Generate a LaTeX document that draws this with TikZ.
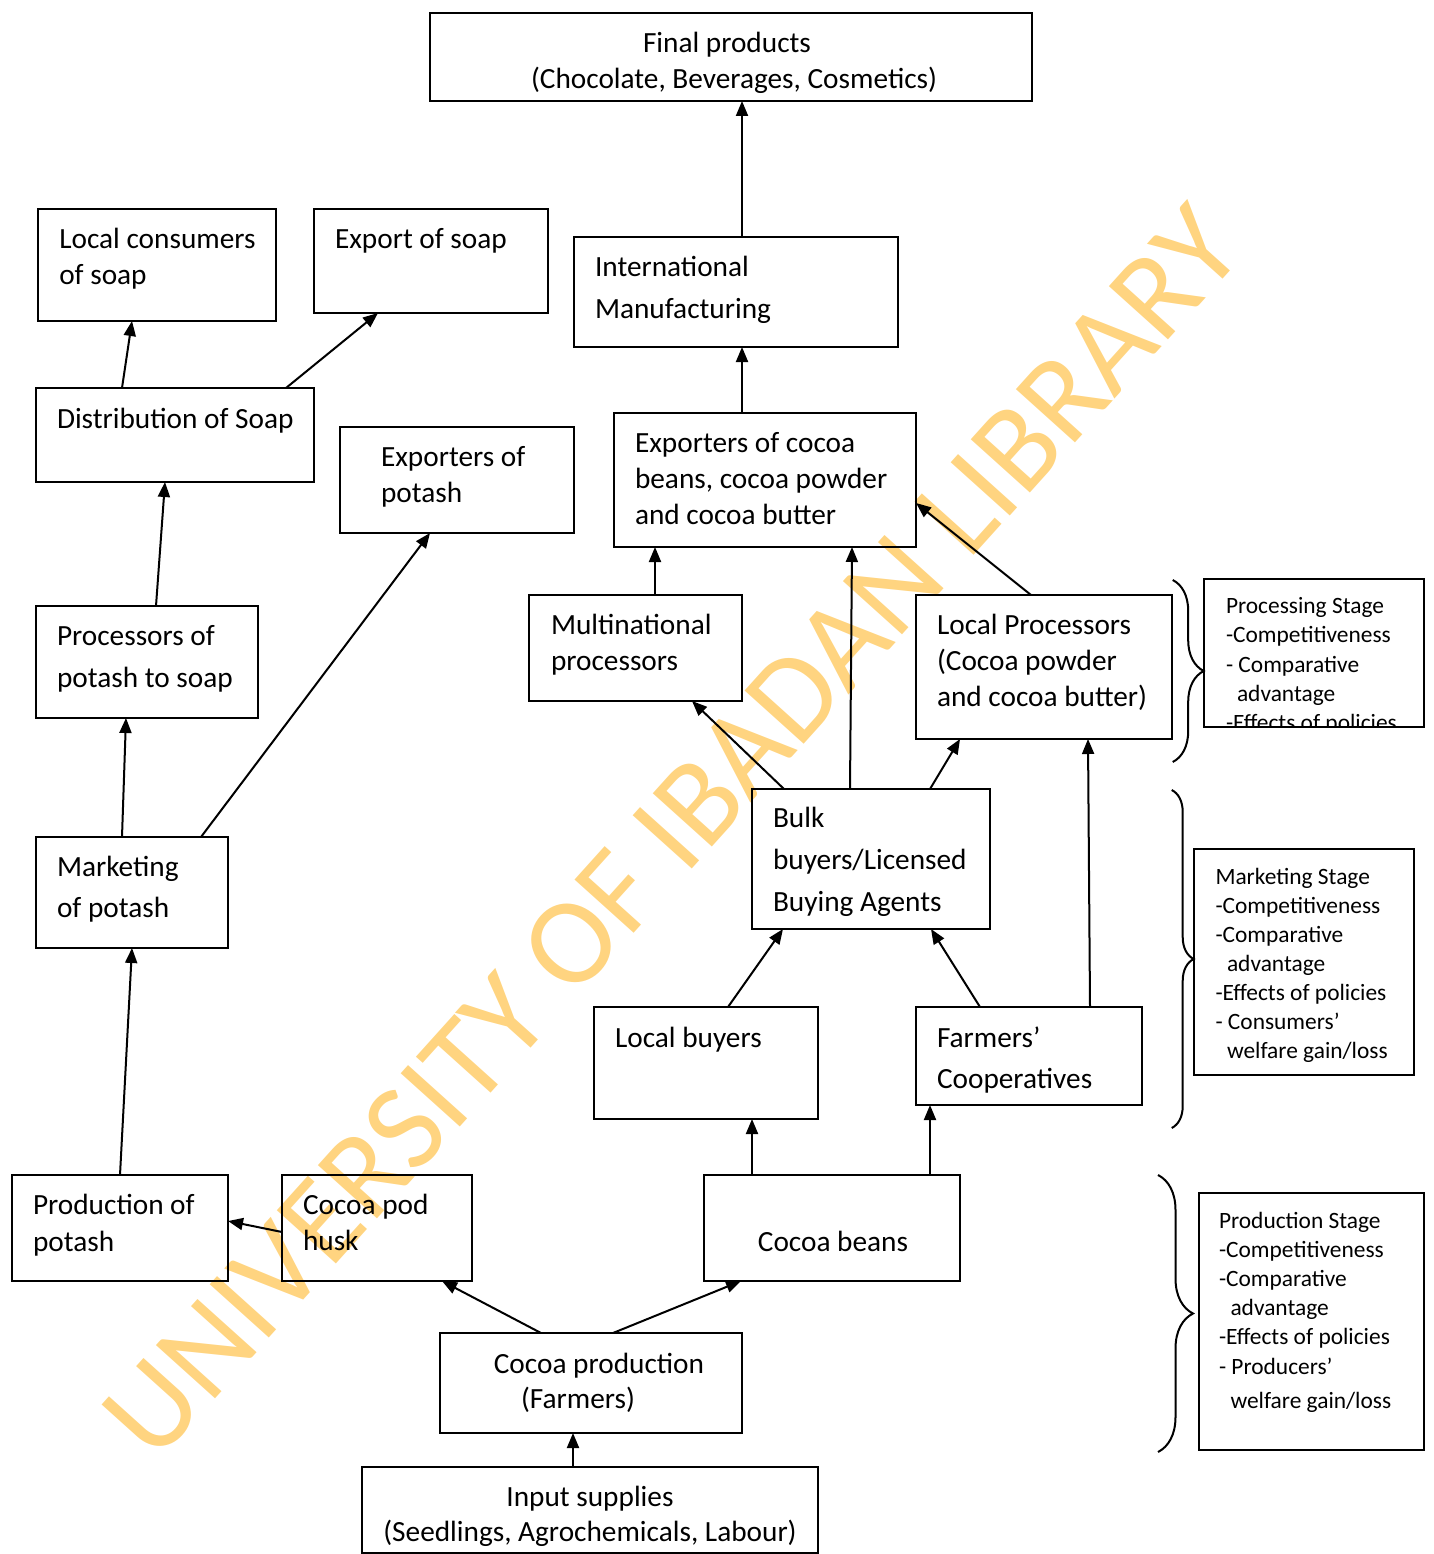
\documentclass[tikz,border=0pt]{standalone}
\usepackage{fontspec}
\setmainfont{Carlito}
\usetikzlibrary{arrows.meta,decorations.pathreplacing}
\definecolor{wm}{RGB}{255,212,128}
% W H pad baseline1 fontsize baselineskip lines
\newcommand\lbox[7]{\parbox[b][#2pt][t]{#1pt}{\fontsize{#5}{#6}\selectfont\vspace*{\dimexpr #4pt-0.7\baselineskip\relax}\hspace*{#3pt}\begin{tabular}[t]{@{}l@{}}#7\end{tabular}}}
\newcommand\cbox[7]{\parbox[b][#2pt][t]{#1pt}{\fontsize{#5}{#6}\selectfont\vspace*{\dimexpr #4pt-0.7\baselineskip\relax}\hspace*{#3pt}\makebox[0pt]{\begin{tabular}[t]{@{}c@{}}#7\end{tabular}}}}
\begin{document}
\begin{tikzpicture}[x=1pt,y=-1pt,
  box/.style={draw, line width=2pt, inner sep=0pt, outer sep=0pt, anchor=north west},
  arr/.style={line width=2pt, -{Triangle[length=15pt,width=12pt]}},
  brc/.style={line width=2pt, decorate},
  wmark/.style={rotate=48, text=wm, font=\fontsize{124}{124}\selectfont}]
\useasboundingbox (0,0) rectangle (1433,1554);
% watermark
\node[wmark] (wmk) at (672,832) {UNIVERSITY OF IBADAN LIBRARY};
% main boxes
\node[box] (fp) at (430,13) {\cbox{602}{88}{301}{40}{29.3}{36}{Final products\hspace*{8pt}\\\hspace*{6pt}(Chocolate, Beverages, Cosmetics)}};
\node[box] (lc) at (38,209) {\lbox{238}{112}{21.3}{39.5}{29.3}{36}{Local consumers\\of soap}};
\node[box] (es) at (314,209) {\lbox{234}{104}{21}{39.5}{29.3}{36}{Export of soap}};
\node[box] (im) at (574,237) {\lbox{324}{110}{21}{39}{29.3}{42}{International\\Manufacturing}};
\node[box] (ds) at (36,388) {\lbox{278}{94}{21}{40}{29.3}{36}{Distribution of Soap}};
\node[box] (ep) at (340,427) {\lbox{234}{106}{41}{39}{29.3}{36}{Exporters of\\potash}};
\node[box] (ec) at (614,413) {\lbox{302}{134}{21}{39}{29.3}{36}{Exporters of cocoa\\beans, cocoa powder\\and cocoa butter}};
\node[box] (pp) at (36,606) {\lbox{222}{112}{21}{39}{29.3}{42}{Processors of\\potash to soap}};
\node[box] (mp) at (529,595) {\lbox{213}{106}{22}{39}{29.3}{36}{Multinational\\processors}};
\node[box] (lp) at (916,595) {\lbox{256}{144}{21}{39}{29.3}{36}{Local Processors\\(Cocoa powder\\and cocoa butter)}};
\node[box] (mk) at (36,837) {\lbox{192}{111}{21}{39}{29.3}{41}{Marketing\\of potash}};
\node[box] (bb) at (752,789) {\lbox{238}{140}{21}{38.9}{29.3}{41.7}{Bulk\\buyers/Licensed\\Buying Agents}};
\node[box] (lb) at (594,1007) {\lbox{224}{112}{21}{40}{29.3}{36}{Local buyers}};
\node[box] (fc) at (916,1007) {\lbox{226}{98}{21}{40}{29.3}{41}{Farmers’\\Cooperatives}};
\node[box] (pt) at (12,1175) {\lbox{216}{106}{21}{39.7}{29.3}{36.6}{Production of\\potash}};
\node[box] (ch) at (282,1175) {\lbox{190}{106}{21}{39.7}{29.3}{35.6}{Cocoa pod\\husk}};
\node[box] (cb) at (704,1175) {\cbox{256}{106}{129}{76}{29.3}{36}{Cocoa beans}};
\node[box] (cp) at (440,1333) {\cbox{302}{100}{159}{40}{29.3}{35}{Cocoa production\\(Farmers)\hspace*{42pt}}};
\node[box] (is) at (362,1467) {\cbox{456}{86}{228}{39.8}{29.3}{35}{Input supplies\\(Seedlings, Agrochemicals, Labour)}};
% stage boxes
\begin{scope}
\clip (1190,570) rectangle (1440,726);
\node[box] (ps) at (1204,579) {\lbox{220}{148}{22}{34.8}{23.4}{29.1}{Processing Stage\\-Competitiveness\\- Comparative\\\hspace*{11pt}advantage\\-Effects of policies}};
\end{scope}
\draw[line width=2pt, line cap=rect] (ps.south west) -- (ps.south east);
\node[box] (ms) at (1194,849) {\lbox{220}{226}{21.5}{35.2}{23.4}{29.1}{Marketing Stage\\-Competitiveness\\-Comparative\\\hspace*{11.5pt}advantage\\-Effects of policies\\- Consumers’\\\hspace*{11.5pt}welfare gain/loss}};
\node[box] (prs) at (1199,1193) {\lbox{225}{257}{20}{35}{23.4}{29.2}{Production Stage\\-Competitiveness\\-Comparative\\\hspace*{11.5pt}advantage\\-Effects of policies\\- Producers’\\[4.8pt]\hspace*{11.5pt}welfare gain/loss}};
% braces
\draw[brc, decoration={brace, amplitude=31pt}] (1172.7,580) -- (1172.7,762);
\draw[brc, decoration={brace, amplitude=22pt}] (1171.7,790) -- (1171.7,1128);
\draw[brc, decoration={brace, amplitude=35pt}] (1158,1175) -- (1158,1452);
% connectors
\draw[arr] ([xshift=168pt]im.north west) -- ([xshift=312pt]fp.south west);
\draw[arr] ([xshift=128pt]ec.north west) -- ([xshift=168pt]im.south west);
\draw[arr] ([xshift=126pt]mp.north west) -- ([xshift=41pt]ec.south west);
\draw[arr] ([xshift=98pt]bb.north west) -- ([xshift=238pt]ec.south west);
\draw[arr] ([xshift=115pt]lp.north west) -- ([yshift=-90pt]ec.north east);
\draw[arr] ([xshift=32pt]bb.north west) -- ([xshift=163pt]mp.south west);
\draw[arr] ([xshift=178pt]bb.north west) -- ([xshift=44pt]lp.south west);
\draw[arr] ([xshift=174pt]fc.north west) -- ([xshift=172pt]lp.south west);
\draw[arr] ([xshift=134pt]lb.north west) -- ([xshift=31pt]bb.south west);
\draw[arr] ([xshift=64pt]fc.north west) -- ([xshift=179pt]bb.south west);
\draw[arr] ([xshift=48pt]cb.north west) -- ([xshift=158pt]lb.south west);
\draw[arr] ([xshift=226pt]cb.north west) -- ([xshift=14pt]fc.south west);
\draw[arr] ([xshift=101pt]cp.north west) -- ([xshift=160pt]ch.south west);
\draw[arr] ([xshift=173pt]cp.north west) -- ([xshift=37pt]cb.south west);
\draw[arr] ([xshift=211pt]is.north west) -- ([xshift=133pt]cp.south west);
\draw[arr] ([yshift=-57pt]ch.north west) -- ([yshift=-46pt]pt.north east);
\draw[arr] ([xshift=108pt]pt.north west) -- ([xshift=96pt]mk.south west);
\draw[arr] ([xshift=86pt]mk.north west) -- ([xshift=90pt]pp.south west);
\draw[arr] ([xshift=165pt]mk.north west) -- ([xshift=90pt]ep.south west);
\draw[arr] ([xshift=120pt]pp.north west) -- ([xshift=129pt]ds.south west);
\draw[arr] ([xshift=86pt]ds.north west) -- ([xshift=94pt]lc.south west);
\draw[arr] ([xshift=250pt]ds.north west) -- ([xshift=64pt]es.south west);
\end{tikzpicture}
\end{document}
